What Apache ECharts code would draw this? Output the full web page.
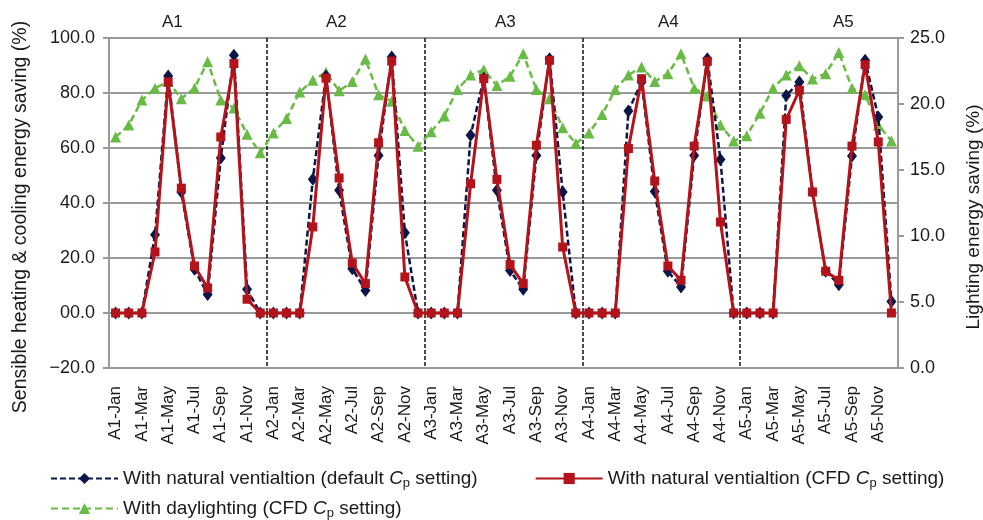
<!DOCTYPE html>
<html>
<head>
<meta charset="utf-8">
<script src="https://cdn.jsdelivr.net/npm/echarts@6/dist/echarts.min.js"></script>
<style>
html, body { margin: 0; padding: 0; background: #fff; }
#chart { width: 983px; height: 520px; }
</style>
</head>
<body>
<div id="chart"></div>
<script>
// data
var groups = ['A1', 'A2', 'A3', 'A4', 'A5'];
var months = ['Jan', 'Feb', 'Mar', 'Apr', 'May', 'Jun', 'Jul', 'Aug', 'Sep', 'Oct', 'Nov', 'Dec'];

var defaultCp = [
    0, 0, 0, 28.5, 86.2, 44.0, 15.9, 6.7, 56.4, 93.7, 8.6, 0,
    0, 0, 0, 48.6, 86.2, 44.6, 16.1, 8.2, 57.3, 93.1, 29.2, 0,
    0, 0, 0, 64.6, 85.4, 44.6, 15.5, 8.6, 57.3, 92.5, 44.0, 0,
    0, 0, 0, 73.5, 84.0, 44.2, 15.2, 9.5, 57.3, 92.5, 55.8, 0,
    0, 0, 0, 79.1, 84.0, 44.0, 15.2, 10.3, 57.1, 91.9, 71.3, 4.2
];
var cfdCp = [
    0, 0, 0, 22.2, 84.0, 45.4, 17.1, 9.1, 64.0, 90.7, 5.0, 0,
    0, 0, 0, 31.3, 85.4, 49.1, 18.2, 10.7, 61.9, 91.6, 13.1, 0,
    0, 0, 0, 47.0, 85.2, 48.6, 17.6, 10.7, 61.0, 91.9, 24.0, 0,
    0, 0, 0, 59.8, 85.2, 48.0, 17.1, 11.9, 60.7, 91.5, 33.1, 0,
    0, 0, 0, 70.4, 81.0, 44.0, 15.2, 11.9, 60.7, 90.3, 62.2, 0
];
var daylighting = [
    17.5, 18.4, 20.3, 21.2, 21.7, 20.4, 21.2, 23.2, 20.3, 19.7, 17.7, 16.3,
    17.8, 18.9, 20.9, 21.8, 22.4, 21.0, 21.7, 23.4, 20.7, 20.2, 18.0, 16.8,
    17.9, 19.1, 21.1, 22.2, 22.6, 21.4, 22.1, 23.8, 21.1, 20.4, 18.2, 17.0,
    17.8, 19.2, 21.1, 22.2, 22.8, 21.7, 22.3, 23.8, 21.2, 20.6, 18.4, 17.2,
    17.6, 19.3, 21.2, 22.2, 22.9, 21.9, 22.3, 23.9, 21.2, 20.7, 18.4, 17.2
];

var seriesNames = [
    'With natural ventialtion (default Cp setting)',
    'With natural ventialtion (CFD Cp setting)',
    'With daylighting (CFD Cp setting)'
];
// legend texts with italic C and subscript p
var legendRich = {};
legendRich[seriesNames[0]] = 'With natural ventialtion (default {i|C}{s|p} setting)';
legendRich[seriesNames[1]] = 'With natural ventialtion (CFD {i|C}{s|p} setting)';
legendRich[seriesNames[2]] = 'With daylighting (CFD {i|C}{s|p} setting)';

var categories = [];
groups.forEach(function (g) {
    months.forEach(function (m) {
        categories.push(g + '-' + m);
    });
});

var font = 'Liberation Sans, Arial, sans-serif';
var gridGray = '#9a9a9a';
var txt = '#1a1a1a';

var legendText = {
    fontFamily: font,
    fontSize: 19,
    color: txt,
    rich: {
        i: { fontFamily: font, fontSize: 19, fontStyle: 'italic', color: txt },
        s: { fontFamily: font, fontSize: 13, color: txt, padding: [9, 0, 0, 0] }
    }
};

var myChart = echarts.init(document.getElementById('chart'), null, { renderer: 'canvas' });

// group titles over each block
var titleX = [172, 336, 505, 668, 843];
var graphics = groups.map(function (g, i) {
    return {
        type: 'text',
        left: titleX[i] - 10,
        top: 14,
        style: { text: g, font: '17px ' + font, fill: txt }
    };
});

var option = {
    animation: false,
    backgroundColor: '#fff',
    graphic: graphics,
    grid: { left: 109, right: 85, top: 38, bottom: 152, containLabel: false, outerBoundsMode: 'none' },
    legend: [{
        data: [seriesNames[0], seriesNames[1]],
        left: 45,
        top: 464,
        itemWidth: 67,
        itemHeight: 14,
        itemGap: 57,
        textStyle: legendText,
        formatter: function (name) { return legendRich[name]; }
    }, {
        data: [seriesNames[2]],
        left: 45,
        top: 494,
        itemWidth: 67,
        itemHeight: 14,
        textStyle: legendText,
        formatter: function (name) { return legendRich[name]; }
    }],
    xAxis: {
        type: 'category',
        data: categories,
        boundaryGap: true,
        axisLine: { onZero: false, lineStyle: { color: gridGray, width: 2 } },
        axisTick: { show: false },
        axisLabel: {
            interval: 1,
            rotate: 90,
            margin: 18,
            fontFamily: font,
            fontSize: 17,
            color: txt
        },
        splitLine: {
            show: true,
            interval: function (index) { return index > 0 && index % 12 === 0; },
            lineStyle: { color: '#111', width: 1.5, type: [4, 2] }
        }
    },
    yAxis: [{
        type: 'value',
        min: -20,
        max: 100,
        interval: 20,
        name: 'Sensible heating & cooling energy saving (%)',
        nameLocation: 'middle',
        nameRotate: 90,
        nameGap: 78,
        nameTextStyle: { fontFamily: font, fontSize: 19.5, color: txt, padding: [0, 28, 0, 0] },
        axisLine: { show: true, lineStyle: { color: gridGray, width: 2 } },
        axisTick: { show: true, length: 6, lineStyle: { color: gridGray, width: 2 } },
        axisLabel: {
            margin: 14,
            fontFamily: font,
            fontSize: 18,
            color: txt,
            formatter: function (v) {
                if (v === 0) return '00.0';
                if (v < 0) return '\u2212' + Math.abs(v).toFixed(1);
                return v.toFixed(1);
            }
        },
        splitLine: { show: true, lineStyle: { color: gridGray, width: 2 } }
    }, {
        type: 'value',
        min: 0,
        max: 25,
        interval: 5,
        position: 'right',
        name: 'Lighting energy saving (%)',
        nameLocation: 'middle',
        nameRotate: 90,
        nameGap: 66,
        nameTextStyle: { fontFamily: font, fontSize: 19, color: txt, padding: [0, 28, 0, 0] },
        axisLine: { show: true, lineStyle: { color: gridGray, width: 2 } },
        axisTick: { show: true, length: 6, lineStyle: { color: gridGray, width: 2 } },
        axisLabel: {
            margin: 12,
            fontFamily: font,
            fontSize: 18,
            color: txt,
            formatter: function (v) { return v.toFixed(1); }
        },
        splitLine: { show: false }
    }],
    series: [{
        name: seriesNames[2],
        type: 'line',
        yAxisIndex: 1,
        data: daylighting,
        symbol: 'triangle',
        symbolSize: 11,
        showAllSymbol: true,
        itemStyle: { color: '#6abb46' },
        lineStyle: { color: '#6abb46', width: 2.5, type: [7, 4] },
        z: 2
    }, {
        name: seriesNames[0],
        type: 'line',
        data: defaultCp,
        symbol: 'diamond',
        symbolSize: [10, 13],
        showAllSymbol: true,
        itemStyle: { color: '#0c1548' },
        lineStyle: { color: '#0c1548', width: 2.5, type: [6, 3] },
        z: 3
    }, {
        name: seriesNames[1],
        type: 'line',
        data: cfdCp,
        symbol: 'rect',
        symbolSize: 9,
        showAllSymbol: true,
        itemStyle: { color: '#b3141b' },
        lineStyle: { color: '#b3141b', width: 3 },
        z: 4
    }]
};
myChart.setOption(option);
</script>
</body>
</html>
